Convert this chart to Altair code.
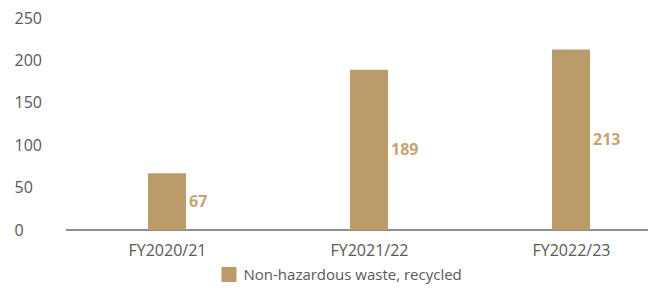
import altair as alt
import pandas as pd

categories = ["FY2020/21", "FY2021/22", "FY2022/23"]
values = [67, 189, 213]
series_name = "Non-hazardous waste, recycled"
y_ticks = [0, 50, 100, 150, 200, 250]

df = pd.DataFrame({
    "idx": list(range(len(categories))),
    "year": categories,
    "value": values,
    "series": [series_name] * len(categories),
})

FONT = "Open Sans"
TEXT_GRAY = "#595959"
BAR = "#BC9B6A"
LABEL = "#C6A472"

LEFT = 58
W, H = 640 - LEFT, 212
TOP = 10
STEP = 202.0
x_scale = alt.Scale(domain=[-101.0 / STEP, -101.0 / STEP + W / STEP], nice=False, zero=False, padding=0)
label_expr = "[" + ",".join("'" + c + "'" for c in categories) + "][datum.value]"

x_enc = alt.X(
    "idx:Q",
    scale=x_scale,
    title=None,
    axis=alt.Axis(values=list(range(len(categories))), labelExpr=label_expr, domain=False,
                  ticks=False, tickSize=0, grid=False, labelAngle=0, labelFont=FONT,
                  labelFontSize=16, labelColor=TEXT_GRAY, labelPadding=12, labelFlush=False),
)
y_scale = alt.Scale(domain=[0, 250], nice=False)

bars = alt.Chart(df).mark_bar(size=38).encode(
    x=x_enc,
    y=alt.Y("value:Q", scale=y_scale, title=None,
            axis=alt.Axis(values=y_ticks, domain=False, ticks=False, tickSize=0, grid=False,
                          labelAlign="left", labelPadding=52, labelFont=FONT,
                          labelFontSize=16, labelColor=TEXT_GRAY)),
    color=alt.Color("series:N", scale=alt.Scale(range=[BAR]),
                    legend=alt.Legend(title=None, orient="none", legendX=155.5, legendY=249,
                                      symbolType="square", symbolSize=225, symbolStrokeWidth=0,
                                      symbolOpacity=1, labelFont=FONT, labelFontSize=15,
                                      labelColor=TEXT_GRAY, labelOffset=7, labelLimit=0)),
)

labels = alt.Chart(df).transform_calculate(mid="datum.value / 2").mark_text(
    align="left", baseline="middle", dx=22, fontWeight="bold", fontSize=16, font=FONT, color=LABEL
).encode(
    x=alt.X("idx:Q", scale=x_scale),
    y=alt.Y("mid:Q", scale=y_scale),
    text=alt.Text("value:Q"),
)

baseline = alt.Chart(df).mark_rule(color="#808080", strokeWidth=1.2).encode(
    x=alt.value(0), x2=alt.value(W), y=alt.Y(datum=0, scale=y_scale)
)

chart = alt.layer(baseline, bars, labels).properties(
    width=W,
    height=H,
    autosize=alt.AutoSizeParams(type="none"),
    padding={"left": LEFT, "top": TOP, "right": 0, "bottom": 276 - TOP - H},
).configure_view(stroke=None)

chart.save("out.html", embed_options={"renderer": "svg", "actions": False})
